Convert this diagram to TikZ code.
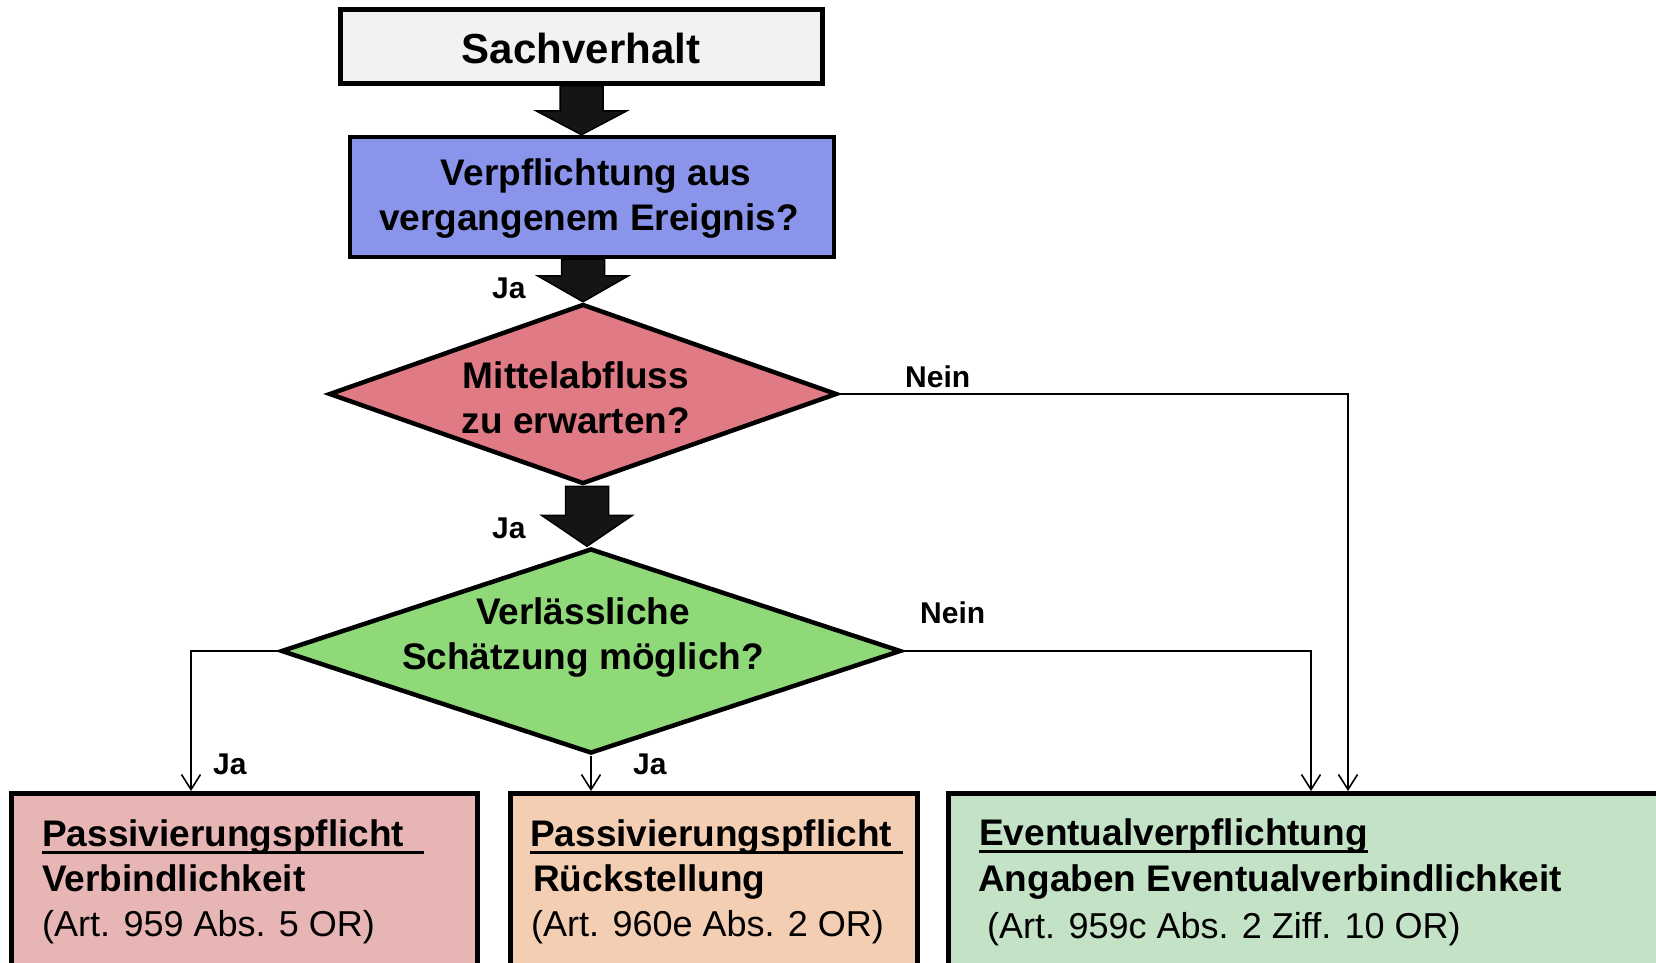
\documentclass[tikz,border=0pt]{standalone}
\usepackage{fontspec}
\setmainfont{Liberation Sans}
\usetikzlibrary{shapes.geometric,arrows.meta,calc}
\definecolor{sachfill}{HTML}{F2F2F2}
\definecolor{bluefill}{HTML}{8A94EA}
\definecolor{dafill}{HTML}{E07A84}
\definecolor{dbfill}{HTML}{8FD978}
\definecolor{bafill}{HTML}{E8B5B5}
\definecolor{bbfill}{HTML}{F4CEB2}
\definecolor{bcfill}{HTML}{C3E2C6}
\definecolor{arrowfill}{HTML}{151515}
\newcommand\myul[2]{\setbox0=\hbox{#1}\rlap{\rule[-8pt]{\dimexpr\wd0+#2\relax}{3pt}}\box0}
\newcommand\fatarrow[3]{\filldraw[fatarr] ($(#1)+(-21.5,0)$) -- ($(#1)+(21.5,0)$) -- ($(#2)+(21.5,-#3)$) -- ($(#2)+(45.5,-#3)$) -- (#2) -- ($(#2)+(-45.5,-#3)$) -- ($(#2)+(-21.5,-#3)$) -- cycle;}
\begin{document}
\begin{tikzpicture}[x=1pt,y=-1pt,
  box/.style={draw=black, line width=4.5pt, rectangle, inner sep=0pt},
  dia/.style={draw=black, line width=4.5pt, diamond, inner sep=0pt},
  big/.style={font=\fontsize{37}{45}\selectfont\bfseries},
  reg/.style={font=\fontsize{36}{45}\selectfont},
  lab/.style={font=\fontsize{30}{36}\selectfont\bfseries, inner sep=0pt, anchor=base west},
  conn/.style={draw=black, line width=1.6pt, -{Straight Barb[length=15pt,width=19pt,line width=1.6pt]}},
  fatarr/.style={fill=arrowfill, draw=black, line width=1.5pt, line join=miter},
  txt/.style={inner sep=0pt, anchor=base west},
  ctr/.style={inner sep=0pt, anchor=base}
]
\useasboundingbox (0,0) rectangle (1656,962);

% top boxes
\node[box, fill=sachfill, minimum width=482, minimum height=74] (sach) at (581.5,46.5) {};
\node[font=\fontsize{42}{50}\selectfont\bfseries, inner sep=0pt] (sacht) at (581,48.5) {Sachverhalt};
\node[box, fill=bluefill, minimum width=484, minimum height=120] (blue) at (592,197) {};
\node[big, ctr] (bluea) at (596,185) {Verpflichtung aus};
\node[big, ctr] (blueb) at (589,230) {vergangenem Ereignis?};

% diamonds
\node[dia, fill=dafill, minimum width=508, minimum height=180] (d1) at (583,394) {};
\node[big, align=center, inner sep=0pt] (d1t) at (576,398) {Mittelabfluss\\zu erwarten?};
\node[dia, fill=dbfill, minimum width=620, minimum height=205] (d2) at (591,651) {};
\node[big, align=center, inner sep=0pt] (d2t) at (583,638) {Verlässliche\\Schätzung möglich?};

% bottom boxes
\node[box, fill=bafill, anchor=north west, minimum width=466, minimum height=200] (b1) at (9,791) {};
\node[box, fill=bbfill, anchor=north west, minimum width=407, minimum height=200] (b2) at (508,791) {};
\node[box, fill=bcfill, anchor=north west, minimum width=800, minimum height=200] (b3) at (946,791) {};

\node[txt, big] (b1a) at (42,846) {\myul{Passivierungspflicht}{20pt}};
\node[txt, big] (b1b) at (42,891) {Verbindlichkeit};
\node[txt, reg] (b1c) at (42,936) {(Art. 959 Abs. 5 OR)};

\node[txt, big] (b2a) at (530,846) {\myul{Passivierungspflicht}{11pt}};
\node[txt, big] (b2b) at (533,891) {Rückstellung};
\node[txt, reg] (b2c) at (531,936) {(Art. 960e Abs. 2 OR)};

\node[txt, big] (b3a) at (979,845) {\myul{Eventualverpflichtung}{0pt}};
\node[txt, big] (b3b) at (978,891) {Angaben Eventualverbindlichkeit};
\node[txt, reg] (b3c) at (987,938) {(Art. 959c Abs. 2 Ziff. 10 OR)};

% fat arrows
\coordinate (a1s) at (sach.south);
\coordinate (a1e) at (a1s |- blue.north);
\fatarrow{a1s}{a1e}{24}
\coordinate (a2e) at (d1.north);
\coordinate (a2s) at (a2e |- blue.south);
\fatarrow{a2s}{a2e}{26}
\coordinate (a3e) at ([xshift=-4pt]d2.north);
\coordinate (a3s) at (a3e |- d1.south);
\fatarrow{a3s}{a3e}{31}

% labels
\node[lab] (ja1) at (492,298) {Ja};
\node[lab] (ja2) at (492,538) {Ja};
\node[lab] (nein1) at (905,387) {Nein};
\node[lab] (nein2) at (920,623) {Nein};
\node[lab] (ja3) at (213,774) {Ja};
\node[lab] (ja4) at (633,774) {Ja};

% thin connectors
\draw[conn] (d1.east) -| ([xshift=402pt]b3.north west);
\draw[conn] (d2.east) -| ([xshift=365pt]b3.north west);
\draw[conn] (d2.west) -| ([xshift=182pt]b1.north west);
\draw[conn] (d2.south) -- (d2.south |- b2.north);
\end{tikzpicture}
\end{document}
